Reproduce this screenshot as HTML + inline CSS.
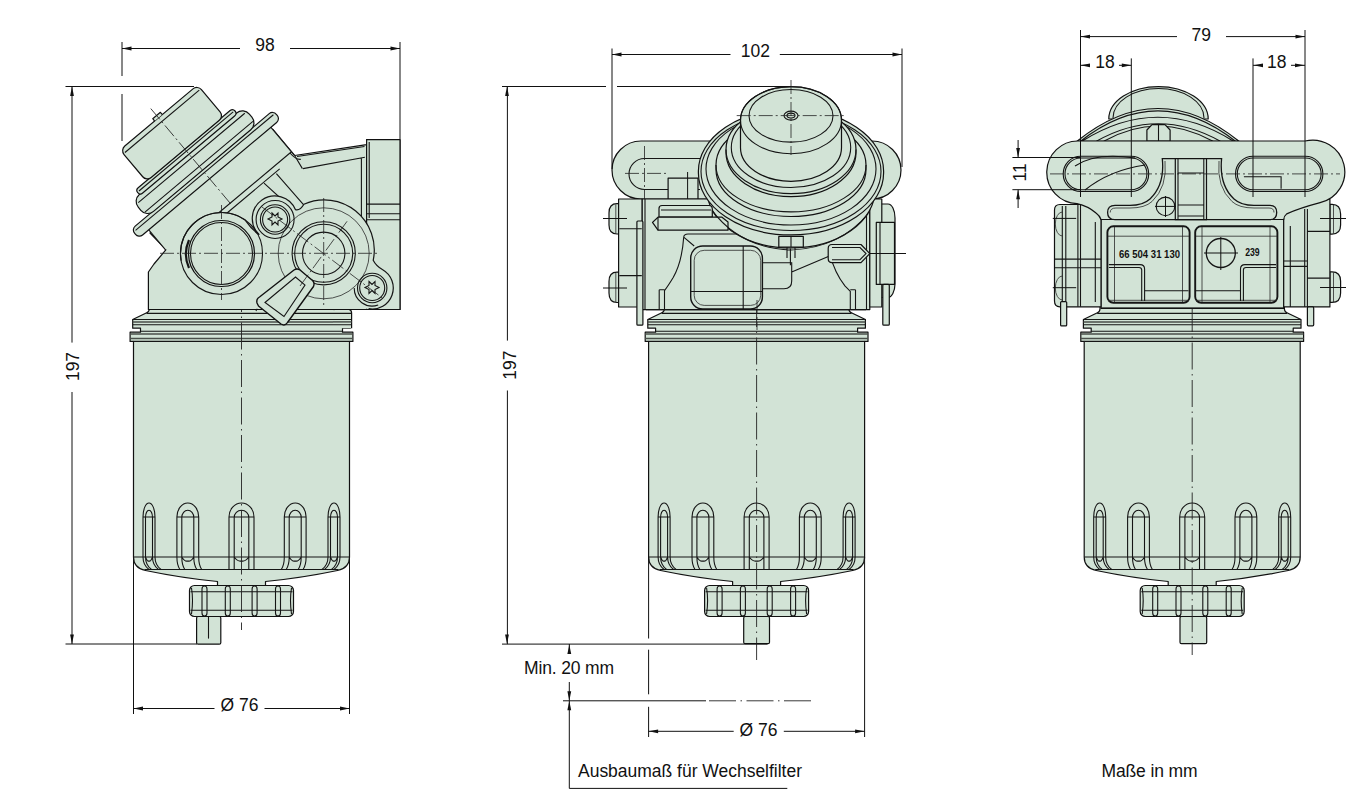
<!DOCTYPE html>
<html><head><meta charset="utf-8"><style>
html,body{margin:0;padding:0;background:#fff;width:1372px;height:807px;overflow:hidden}
svg{display:block}
text{font-family:"Liberation Sans",sans-serif;fill:#111}
.f{fill:#d2e3d6;stroke:#111;stroke-width:1.2;stroke-linejoin:round}
.o{fill:none;stroke:#151515;stroke-width:1.1}
.t{fill:none;stroke:#2a2a2a;stroke-width:0.8}
.d{fill:none;stroke:#111;stroke-width:1}
.c{fill:none;stroke:#222;stroke-width:0.8;stroke-dasharray:14 3 2 3}
.cl{fill:none;stroke:#222;stroke-width:0.9;stroke-dasharray:27 4.5 1.5 4.5}
.a{fill:#111;stroke:none}
</style></head><body>
<svg width="1372" height="807" viewBox="0 0 1372 807">
<defs>
<path id="ar" d="M0,0 L9.5,-1.9 L9.5,1.9 Z"/>
<g id="bowl">
<path class="f" d="M-92.2,306 V309 Q-92.5,312.5 -95.3,313 L-108.8,319.5 V328.2 H-101 V332.2 H-111.4 V341.4 H-108 V557 Q-108,568 -96,570.5 Q-60,578 -24,581.5 V586 H24 V581.5 Q60,578 96,570.5 Q108,568 108,557 V341.4 H111.4 V332.2 H101 V328.2 H108.8 V319.5 L95.3,313 Q92.5,312.5 92.2,309 V306 Z"/>
<path class="o" d="M-108.8,319.5 H108.8 M-108.8,324.7 H108.8 M-101,331.3 H101 M-108,341.4 H108 M-108,557 H108 M-97,569.5 H97 M-95,313.4 H95"/>
<path fill="none" stroke="#4a4f4a" stroke-width="1.5" d="M-108.8,321.9 H108.8 M-111.4,334 H111.4 M-111.4,338.6 H111.4"/>
<path class="o" d="M-12.5,557 V517 A12.5,14 0 0 1 12.5,517 V557 M-7.3,557 V517.5 A7.3,7.3 0 0 1 7.3,517.5 V557 M-12.5,517 H12.5 M-12.5,557 Q-12.5,565 -12.5,569.5 M-7.3,557 Q-7.3,565 -7.3,569.5 M7.3,557 Q7.3,565 7.3,569.5 M12.5,557 Q12.5,565 12.5,569.5 M-7.3,557 Q-3.6,562 0.0,561 Q3.6,562 7.3,557 M42.8,557 V517 A10.9,14 0 0 1 64.6,517 V557 M47.7,557 V517.5 A6.0,7.3 0 0 1 59.7,517.5 V557 M42.8,517 H64.6 M42.8,557 Q42.8,565 39.8,569.5 M47.7,557 Q47.7,565 44.7,569.5 M59.7,557 Q59.7,565 56.7,569.5 M64.6,557 Q64.6,565 61.6,569.5 M47.7,557 Q50.7,562 53.7,561 Q56.7,562 59.7,557 M-64.6,557 V517 A10.9,14 0 0 1 -42.8,517 V557 M-59.7,557 V517.5 A6.0,7.3 0 0 1 -47.7,517.5 V557 M-64.6,517 H-42.8 M-64.6,557 Q-64.6,565 -61.6,569.5 M-59.7,557 Q-59.7,565 -56.7,569.5 M-47.7,557 Q-47.7,565 -44.7,569.5 M-42.8,557 Q-42.8,565 -39.8,569.5 M-59.7,557 Q-56.7,562 -53.7,561 Q-50.7,562 -47.7,557 M86.5,557 V517 A6.0,14 0 0 1 98.5,517 V557 M89.0,557 V517.5 A3.5,7.3 0 0 1 96.0,517.5 V557 M86.5,517 H98.5 M86.5,557 Q86.5,565 80.5,569.5 M89.0,557 Q89.0,565 83.0,569.5 M96.0,557 Q96.0,565 90.0,569.5 M98.5,557 Q98.5,565 92.5,569.5 M89.0,557 Q90.8,562 92.5,561 Q94.2,562 96.0,557 M-98.5,557 V517 A6.0,14 0 0 1 -86.5,517 V557 M-96.0,557 V517.5 A3.5,7.3 0 0 1 -89.0,517.5 V557 M-98.5,517 H-86.5 M-98.5,557 Q-98.5,565 -92.5,569.5 M-96.0,557 Q-96.0,565 -90.0,569.5 M-89.0,557 Q-89.0,565 -83.0,569.5 M-86.5,557 Q-86.5,565 -80.5,569.5 M-96.0,557 Q-94.2,562 -92.5,561 Q-90.8,562 -89.0,557"/>
<rect class="f" x="-52" y="585.5" width="104" height="31" rx="5"/>
<path class="o" d="M-51,591.8 H51 M-51,610.2 H51"/>
<path class="o" d="M-39.5,589 Q-39.5,586 -37.0,586 Q-34.5,586 -34.5,589 V613 Q-34.5,616 -37.0,616 Q-39.5,616 -39.5,613 Z M-16.2,589 Q-16.2,586 -13.7,586 Q-11.2,586 -11.2,589 V613 Q-11.2,616 -13.7,616 Q-16.2,616 -16.2,613 Z M10.6,589 Q10.6,586 13.1,586 Q15.6,586 15.6,589 V613 Q15.6,616 13.1,616 Q10.6,616 10.6,613 Z M34.0,589 Q34.0,586 36.5,586 Q39.0,586 39.0,589 V613 Q39.0,616 36.5,616 Q34.0,616 34.0,613 Z M-50,588 Q-48,600 -50,614 M50,588 Q48,600 50,614"/>
</g>
</defs>
<g id="bowls">
 <use href="#bowl" transform="translate(241.5,0)"/>
 <rect class="f" x="196.6" y="616.5" width="24.2" height="27.7" rx="1.5"/><path class="o" d="M208.5,617 V638.6"/>
 <use href="#bowl" transform="translate(756.6,0)"/>
 <rect class="f" x="743.7" y="616.5" width="25.8" height="27.2" rx="1.5"/>
 <use href="#bowl" transform="translate(1192.2,0)"/>
 <rect class="f" x="1180" y="616.5" width="26.7" height="27.2" rx="1.5"/>
 <path class="cl" d="M241.5,285 V630 M756.6,300 V660 M1192.2,305 V655"/>
</g>
<g id="headL">
 <!-- housing -->
 <path class="f" d="M150,233 L166,249.7 L154,264 L148.4,272 V309.5 H400 V139.6 H366.6 V144.7 L294.6,155.5 L272.9,129.5 Z"/>
 <!-- tilted cap stack -->
 <g transform="translate(158.5,117.8) rotate(-40)">
  <path d="M-79.5,78 H80 V117 L-79.5,106 Z" fill="#d2e3d6"/><path class="o" d="M-79.5,78 V106 M80,78 V116.4 M-30,111.5 H80 M-20,117 H60"/>
  <rect class="f" x="-92.5" y="68" width="185" height="11.5" rx="5"/>
  <path class="o" d="M-90,71.5 H90"/>
  <rect class="f" x="-73" y="46.5" width="145" height="22" rx="9"/>
  <path class="o" d="M-70,52 H69 M-71,63.5 H70"/>
  <rect class="f" x="-64" y="40.5" width="127" height="7" rx="3.5"/>
  <path class="o" d="M-62,43.5 H61"/>
  <rect class="f" x="-50" y="0" width="101" height="41" rx="6"/>
  <path class="o" d="M-48,5 H49"/>
  <path class="f" d="M-5,0 V-3 H5 V0"/>
  <path class="c" d="M0,-12 V115"/>
 </g>
 <!-- rib -->
 <path class="o" d="M276.4,173.6 L305,206.4 M264,183.2 L294,210.5 M290,153 Q296,160 300.9,159.3"/>
 <!-- pipe -->
 <path class="o" d="M303,168.6 L364.9,157.3 M294.6,155.5 L302.4,168.6 M361.4,158 V218 M297,156.5 L364.5,146.5"/>
 <!-- port block -->
 <rect class="f" x="366.6" y="139.6" width="33.4" height="169.9"/>
 <path class="o" d="M369.2,142 V218 M366.6,204.1 H400 M366.6,213.7 H400 M366.6,219.7 H400"/>
 <!-- boss lobes outline -->
 
 <path class="o" d="M281,228 A47,47 0 0 0 300,300 M250,285 Q262,300 256,311"/>
 <path fill="#d2e3d6" d="M181.1,260.6 A41,41 0 0 1 245,219.9 Q252,230 259.3,234.8 A22.5,22.5 0 1 1 295.5,209.7 Q300,211 303.9,204.3 A50,50 0 0 1 373.2,260.3 Q376,266 382.7,269.8 A21,21 0 0 1 368.6,308.7 V308.8 H181.1 Z"/>
 <path class="o" style="stroke-width:1.2" d="M181.1,260.6 A41,41 0 0 1 245,219.9 Q252,230 259.3,234.8 A22.5,22.5 0 1 1 295.5,209.7 Q300,211 303.9,204.3 A50,50 0 0 1 373.2,260.3 Q376,266 382.7,269.8 A21,21 0 0 1 368.6,308.7"/>
 <!-- big hole -->
 
 <circle class="o" cx="221.5" cy="253.5" r="41"/>
 <circle class="f" cx="221.5" cy="253.5" r="33"/>
 <circle class="o" cx="221.5" cy="253.5" r="31"/><path class="o" style="stroke-width:2.2" d="M189,240 A34,34 0 0 0 189,268"/>
 <!-- main boss -->
 <circle class="t" cx="323.7" cy="253.3" r="45.5"/>
 <circle class="o" cx="323.7" cy="253.3" r="31.6"/>
 <circle class="o" cx="323.7" cy="253.3" r="29"/>
 <circle class="o" cx="323.7" cy="253.3" r="21.2"/>
 <!-- screws -->
 <circle class="o" cx="275.1" cy="219.5" r="19"/>
 <circle class="o" cx="275.1" cy="219.5" r="14.7"/>
 <circle class="o" cx="275.1" cy="219.5" r="12.5"/>
 <circle class="o" cx="372.2" cy="288" r="14.7"/>
 <circle class="o" cx="372.2" cy="288" r="12.5"/>
 <path class="o" d="M272,213 l3,3 l3,-3 l0,4 l4,2 l-4,2 l0,4 l-3,-3 l-3,3 l0,-4 l-4,-2 l4,-2z M369,281.5 l3,3 l3,-3 l0,4 l4,2 l-4,2 l0,4 l-3,-3 l-3,3 l0,-4 l-4,-2 l4,-2z"/>
 <!-- lever -->
 <path class="f" style="stroke-width:1.4" d="M257,303 Q256,299 259.5,297 L294,270 Q297,268 300,270 L312.5,280.5 Q315,283 313.5,286.5 L287.5,322.5 Q285,326.5 281,324 L258.5,306 Z"/>
 <path class="o" d="M265,302.5 L295.5,277 L305,285 L284,316.5 Z"/>
 <!-- right flange override -->
 <rect fill="#d2e3d6" x="333" y="310.1" width="18.6" height="18.1"/>
 <path class="f" style="fill:none" d="M349,309.5 Q351.6,310 351.6,313 V328.2"/>
 <path class="o" d="M333,319.5 H351.6 M333,324.7 H351.6 M333,313.4 H351.6"/><path fill="none" stroke="#4a4f4a" stroke-width="1.5" d="M333,321.9 H351.6"/>
 <path class="o" d="M372.2,288 m-18,0 a18,18 0 0 0 24,17"/>
 <!-- centerlines -->
 <path class="c" d="M160,253.3 H378 M221.5,205 V300 M323.7,198 V305 M262,207 L385,300 M300,286 L348,220"/>
 <!-- bottom lines -->
 
</g>
<g id="headC">
 <!-- ear plate -->
 <path class="f" d="M641,141 H872 A29,29 0 0 1 872,199 H641 A29,29 0 0 1 641,141 Z"/>
 <path class="o" d="M644.5,158.5 H700 M644.5,189.5 H700 M644.5,158.5 A15.5,15.5 0 0 0 644.5,189.5"/>
 <path class="c" d="M625,173.4 H668 M644.5,146 V205"/>
 <rect class="f" x="668.1" y="178.2" width="29.9" height="21"/>
 <path class="d" d="M687.6,172 V228"/>
 <!-- housing block -->
 <path class="f" d="M642,199 H869.8 V309.6 H642 Z"/>
 <path class="o" d="M683.7,237.2 Q682,262 673.2,277.5 Q668,286 664.5,290.6 V309 M659.2,289.7 V309 M659.2,289.7 H664.5 M829.5,252.3 Q834,272 845.1,286.2 Q848,289 850.3,291.4 V309 M855.5,289.7 V309 M850.3,289.7 H855.5 M646,309.6 H866"/>
 <!-- pocket -->
 <path class="o" d="M683.7,237.2 Q684,234 688,234 H740 M683.7,237.2 L694.2,246"/>
 <rect class="o" style="stroke-width:1.4" x="690.7" y="246" width="71.7" height="63" rx="12"/>
 <rect class="t" x="694.2" y="250.3" width="66.5" height="55.1" rx="10"/>
 <path class="o" d="M743.2,246 V309 M690.7,291.5 H762.4 M762.4,262.7 H791.7 V281 Q791.7,288.8 784,288.8 H762.4 M790.4,248.4 V265.3 M791.7,272 L829.5,256"/>
 <!-- left bracket -->
 <path class="f" d="M620,203.7 H617 Q609,203.7 609,213 V225 Q609,234 617,234 H620 Z M620,272.2 H617 Q609,272.2 609,281.5 V293 Q609,302.5 617,302.5 H620 Z"/><path class="t" d="M615.8,204.5 V233.5 M615.8,273 V302"/>
 <rect class="f" x="618.6" y="199" width="23.4" height="108"/>
 <rect class="f" x="636.9" y="221" width="6" height="104.2" rx="1"/>
 <path class="o" d="M645,199 V309.6 M619.3,228.8 H641.8 M619.3,275.6 H641.8"/>
 <path class="d" d="M603,218.5 H627 M603,288 H627"/>
 <!-- right bracket -->
 <path class="f" d="M876,204 H888 A7,14 0 0 1 895,218 V284 A7,14 0 0 1 888,297.5 H876 Z"/>
 <rect class="f" x="869.8" y="199" width="12" height="108"/>
 <rect class="f" x="876.3" y="222.4" width="18.2" height="62"/>
 <rect class="f" x="882.8" y="284.4" width="6.5" height="40.8" rx="1"/>
 <path class="o" d="M866.5,199 V309.6 M880,222.4 V284.4"/>
 <path class="d" d="M855,253.5 H906"/>
 <!-- under-disk bowl -->
 <ellipse class="f" cx="791" cy="190" rx="84" ry="58"/>
 <!-- disk stack -->
 <path class="f" d="M698.4,171 V173 A92.6,62 0 0 0 883.6,173 V171 A92.6,62 0 0 0 698.4,171 Z"/>
 <ellipse class="o" cx="791" cy="171.5" rx="90" ry="59"/>
 <ellipse class="o" cx="791" cy="169" rx="85" ry="56"/>
 <path class="f" d="M716,164.9 V169.5 A75,47 0 0 0 866,169.5 V164.9 A75,47 0 0 0 716,164.9 Z"/>
 <path class="o" d="M716,164.9 A75,47 0 0 0 866,164.9"/>
 <path class="f" d="M726,149.6 V152.6 A65,44 0 0 0 856,152.6 V149.6 A65,44 0 0 0 726,149.6 Z"/>
 <path class="o" d="M726,149.6 A65,44 0 0 0 856,149.6"/>
 <ellipse class="o" cx="791" cy="147.5" rx="59.7" ry="40"/>
 <!-- cap -->
 <path class="f" d="M740.5,120.2 V147.8 A50.5,33.5 0 0 0 841.5,147.8 V120.2 A50.5,33.5 0 0 0 740.5,120.2 Z"/>
 <ellipse class="o" cx="791" cy="120.2" rx="50.5" ry="33.5"/>
 <ellipse class="o" cx="791" cy="115.8" rx="42" ry="26.3"/>
 <ellipse class="o" cx="791" cy="115.6" rx="7" ry="4.5"/>
 <ellipse class="o" cx="791" cy="115.6" rx="4" ry="2.5"/>
 <path class="c" d="M736.7,115.6 H846 M791,80 V155"/>
 <!-- left bolt -->
 <path class="f" d="M662,205.5 H709 Q712.3,205.5 712.3,209 V217.2 H659 V208.5 Q659,205.5 662,205.5 Z"/>
 <path class="f" d="M652.5,222.4 L658,217.2 H722 L728,222 V230.2 H658 Z"/>
 <path class="o" d="M658,217.2 V230.2 M661,210 H711"/>
 <!-- right bolt -->
 <path class="f" d="M832,244.5 H861 L869.8,253.6 L861,262.7 H832 Q828.2,262.7 828.2,258.5 V248.5 Q828.2,244.5 832,244.5 Z"/>
 <path class="o" d="M832,247.5 H860 L866,253.6 L860,259.7 H832"/>
 <!-- center nut -->
 <rect class="f" x="778.8" y="236.4" width="24.5" height="10.7"/>
 <path class="o" d="M791,236.4 V247 M787,247 V258 M795,247 V258 M712,210.4 Q740,248 791,250 Q840,248 868.3,213.5"/>
 <path class="c" d="M757,300 V330"/>
</g>
<g id="headR">
 <!-- dome -->
 <path class="f" d="M1108.8,119 A49.7,32.5 0 0 1 1208.2,119 Z"/>
 <path class="o" d="M1113,118 A45.5,29.5 0 0 1 1204,118"/>
 <!-- disk -->
 <path class="f" d="M1077,141.3 Q1158,75.7 1239,141.3 Z"/>
 <path class="o" d="M1080.5,141.3 Q1158,80.5 1235.5,141.3 M1082,141.3 Q1158,93.3 1233.5,141.3 M1096.4,141.3 Q1158,106.3 1220.3,141.3 M1103.7,141.3 Q1158,110.7 1213,141.3"/>
 <path class="f" d="M1146.9,141 V130 L1152,124.6 H1165 L1170.1,130 V141 Z"/>
 <path class="o" d="M1158.5,124.6 V141"/>
 <!-- housing block -->
 <rect class="f" x="1101" y="200" width="182.7" height="108.3"/>
 <!-- left bracket -->
 <path class="f" d="M1101,204.5 H1060 Q1054.5,204.5 1054.5,210 V301 Q1054.5,306.8 1060,306.8 H1101 Z"/>
 <rect class="f" x="1060.6" y="301.6" width="6.1" height="24.3" rx="1"/>
 <path class="o" d="M1062.3,206 V301 M1065.8,206 V301 M1077.9,205 V306.8 M1080.5,205 V306.8 M1054.5,259.1 H1101 M1054.5,267.8 H1101 M1095.3,222 V302"/>
 <path class="t" d="M1062.3,212 A7,12 0 0 0 1062.3,236 M1062.3,276 A7,12 0 0 0 1062.3,300"/>
 <path class="d" d="M1052.8,218.4 H1076.2 M1052.8,287.7 H1076.2"/>
 <!-- right bracket -->
 <path class="f" d="M1329.9,204.4 H1332 Q1340.6,204.4 1340.6,214 V225 Q1340.6,234.1 1332,234.1 H1329.9 Z M1329.9,271.8 H1332 Q1340.6,271.8 1340.6,281 V293 Q1340.6,302.4 1332,302.4 H1329.9 Z"/>
 <path class="t" d="M1333.5,205 V233.5 M1333.5,272.5 V302"/>
 <rect class="f" x="1283.7" y="199" width="46.2" height="107.9"/>
 <rect class="f" x="1307.4" y="306.9" width="6.3" height="18.9" rx="1"/>
 <path class="o" d="M1304.7,208.9 V306.9 M1307.4,208.9 V306.9 M1307.4,231.4 H1329.9 M1307.4,278.1 H1329.9 M1290.3,226 V306.9 M1284,261 H1307 M1284,266.4 H1307"/>
 <path class="d" d="M1320,218.5 H1346 M1320,287.5 H1346"/>
 <!-- slotted plate -->
 <path class="f" d="M1078.5,141 H1305 A32,31.5 0 0 1 1320.1,202.7 Q1300,208 1286.7,213.9 Q1284,216 1283.7,219.5 H1101 Q1100,216 1096,213 Q1088,206 1077,203.6 A31,31.3 0 0 1 1078.5,141 Z"/>
 <rect class="o" x="1063.2" y="156.2" width="85.5" height="35.3" rx="17.6"/>
 <rect class="o" x="1065" y="158" width="81.9" height="31.7" rx="15.8"/>
 <rect class="o" x="1235.5" y="156.2" width="87.4" height="35.3" rx="17.6"/>
 <rect class="o" x="1237.3" y="158" width="83.8" height="31.7" rx="15.8"/>
 <path class="o" d="M1075,166 Q1095,152 1135,158 M1085,190 Q1110,170 1145,165 M1243.9,176.7 H1281.1 V188.8"/>
 <path class="o" style="stroke-width:1.3" d="M1162.3,158.6 Q1165,185 1150,199 Q1143,205.4 1130,205.4 H1115 Q1107.6,205.4 1107.6,212.5 Q1107.6,219.7 1115,219.7 H1270 Q1276.7,219.7 1276.7,212.5 Q1276.7,205.4 1270,205.4 H1254 Q1241,205.4 1234,199 Q1219,185 1221.6,158.6 Z"/>
 <path class="t" d="M1165,161 Q1167.5,187 1152,201.5 Q1145,208 1130,208 H1116 Q1110.2,208 1110.2,212.5 M1219,161 Q1216.5,187 1232,201.5 Q1239,208 1254,208 H1269 Q1274,208 1274,212.5"/>
 <rect class="f" x="1175.3" y="158.6" width="31.2" height="61.1"/>
 <path class="o" d="M1178,158.6 V219.7 M1203.8,158.6 V219.7 M1178,173 H1203.8 M1178,205 H1203.8 M1178,216 H1203.8"/>
 <circle class="o" cx="1165.5" cy="206.4" r="9.3"/>
 <path class="d" d="M1155,206.4 H1176 M1165.5,196 V217"/>
 <!-- pockets -->
 <rect class="o" style="stroke-width:1.9" x="1107.4" y="226.3" width="82.2" height="76.5" rx="6"/>
 <rect class="o" style="stroke-width:1.9" x="1195.2" y="226.3" width="82.2" height="76.5" rx="6"/>
 <path class="t" d="M1114.5,227 V302 M1182.5,227 V302 M1108,236.2 H1189 M1108,300.3 H1189 M1202,227 V302 M1270,227 V302 M1196,236.2 H1277 M1196,300.3 H1277"/>
 <path class="o" d="M1108.9,264.6 H1140 Q1144.6,264.6 1144.6,269 V301 M1108.9,267.5 H1139 Q1141.7,267.5 1141.7,270 V301 M1144.6,290.8 H1188.5 M1276,264.6 H1245 Q1240.5,264.6 1240.5,269 V301 M1276,267.5 H1246 Q1243.4,267.5 1243.4,270 V301 M1240.5,290.8 H1196"/>
 <circle class="o" cx="1220.8" cy="253" r="14.5" style="stroke-width:1.3"/>
 <path class="d" d="M1204,253 H1238 M1220.8,237 V270"/>
 <text x="1119" y="257.9" font-size="11.5" font-weight="bold" textLength="61" lengthAdjust="spacingAndGlyphs">66 504 31 130</text>
 <text x="1245.2" y="255.8" font-size="10" font-weight="bold" textLength="14.5" lengthAdjust="spacingAndGlyphs">239</text>
 <path class="o" d="M1101,308 H1283.7"/>
 <path class="c" d="M1050,173.9 H1340"/>
</g>
<g id="dims">
 <!-- left view -->
 <path class="d" d="M122,48.5 H240 M290,48.5 H400 M122,42 V76 M122,94 V141 M400,42 V139 M65.5,86.5 H194 M72,86.5 V342.6 M72,392 V644 M65.5,644 H197 M133.5,557 V714 M349.5,557 V714 M133.5,708.5 H214.5 M264.5,708.5 H349.5"/>
 <use class="a" href="#ar" transform="translate(122,48.5)"/>
 <use class="a" href="#ar" transform="translate(400,48.5) rotate(180)"/>
 <use class="a" href="#ar" transform="translate(72,86.5) rotate(90)"/>
 <use class="a" href="#ar" transform="translate(72,644) rotate(-90)"/>
 <use class="a" href="#ar" transform="translate(133.5,708.5)"/>
 <use class="a" href="#ar" transform="translate(349.5,708.5) rotate(180)"/>
 <text x="265" y="51.2" font-size="17.5" text-anchor="middle">98</text>
 <text x="0" y="0" font-size="17.5" text-anchor="middle" transform="translate(79,366.5) rotate(-90)">197</text>
 <text x="239.4" y="711.1" font-size="17.5" text-anchor="middle">Ø 76</text>
 <!-- center view -->
 <path class="d" d="M612,54.5 H730.5 M779.8,54.5 H902 M612,48.5 V169 M902,48.5 V167 M502,86.5 H606 M617,86.5 H791 M507.4,86.5 V340.6 M507.4,390.5 V644.1 M502,644.1 H767.5 M648.6,557 V638.5 M648.6,649.7 V694.3 M648.6,706.8 V737 M864.6,557 V737 M648.6,731.3 H733.7 M783.8,731.3 H864.6"/>
 <use class="a" href="#ar" transform="translate(612,54.5)"/>
 <use class="a" href="#ar" transform="translate(902,54.5) rotate(180)"/>
 <use class="a" href="#ar" transform="translate(507,86.5) rotate(90)"/>
 <use class="a" href="#ar" transform="translate(507,644.1) rotate(-90)"/>
 <use class="a" href="#ar" transform="translate(648.6,731.3)"/>
 <use class="a" href="#ar" transform="translate(864.6,731.3) rotate(180)"/>
 <text x="755.3" y="57.1" font-size="17.5" text-anchor="middle">102</text>
 <text x="0" y="0" font-size="17.5" text-anchor="middle" transform="translate(516.4,365.2) rotate(-90)">197</text>
 <text x="758.5" y="735.7" font-size="17.5" text-anchor="middle">Ø 76</text>
 <path class="d" d="M569.3,652 V644 M569.3,682 V700.8 M569.3,700.8 V788.4 H787.3"/>
 <path class="d" d="M563,700.8 H706"/><path class="cl" d="M706,700.8 H813" style="stroke-dashoffset:-3"/>
 <use class="a" href="#ar" transform="translate(569.3,644.6) rotate(90)"/>
 <use class="a" href="#ar" transform="translate(569.3,700.8) rotate(-90)"/>
 <use class="a" href="#ar" transform="translate(569.3,700.8) rotate(90)"/>
 <text x="524" y="673.8" font-size="17.5" textLength="90" lengthAdjust="spacing">Min. 20 mm</text>
 <text x="578" y="776.9" font-size="17.5" textLength="224" lengthAdjust="spacing">Ausbaumaß für Wechselfilter</text>
 <!-- right view -->
 <path class="d" d="M1080.5,36.6 H1177 M1226,36.6 H1305 M1080.5,30 V197 M1305,30 V197 M1080.5,65.3 H1089.5 M1119,65.3 H1131.3 M1131.3,58.4 V197 M1253,65.3 H1262 M1291,65.3 H1305 M1253,58.4 V197 M1018.1,140 V157.5 M1018.1,189.7 V208 M1012.4,157.5 H1080 M1012.4,189.7 H1080"/>
 <use class="a" href="#ar" transform="translate(1080.5,36.6)"/>
 <use class="a" href="#ar" transform="translate(1305,36.6) rotate(180)"/>
 <use class="a" href="#ar" transform="translate(1080.5,65.3)"/>
 <use class="a" href="#ar" transform="translate(1131.3,65.3) rotate(180)"/>
 <use class="a" href="#ar" transform="translate(1253.5,65.3)"/>
 <use class="a" href="#ar" transform="translate(1304.5,65.3) rotate(180)"/>
 <use class="a" href="#ar" transform="translate(1018.1,157.5) rotate(-90)"/>
 <use class="a" href="#ar" transform="translate(1018.1,189.7) rotate(90)"/>
 <text x="1201.3" y="40.8" font-size="17.5" text-anchor="middle">79</text>
 <text x="1105" y="68.4" font-size="17.5" text-anchor="middle">18</text>
 <text x="1276.8" y="68.4" font-size="17.5" text-anchor="middle">18</text>
 <text x="0" y="0" font-size="17.5" text-anchor="middle" transform="translate(1025.5,172.3) rotate(-90)">11</text>
 <text x="1101.5" y="776.7" font-size="17.5" textLength="96" lengthAdjust="spacing">Maße in mm</text>
</g>
</svg>
</body></html>
